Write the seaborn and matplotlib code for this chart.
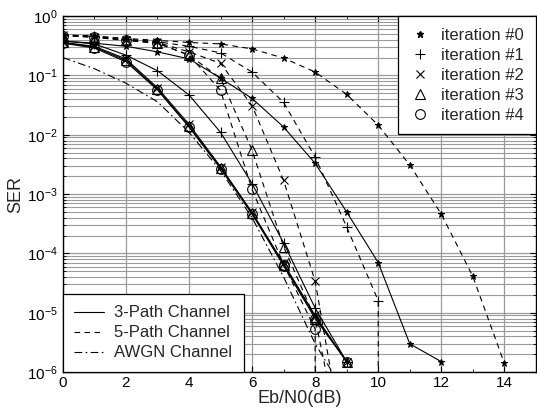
import numpy as np
import pandas as pd
import matplotlib
matplotlib.use("Agg")
import matplotlib.pyplot as plt
from matplotlib.lines import Line2D
from matplotlib.ticker import LogLocator, MultipleLocator, NullFormatter
import seaborn as sns

# ---------------- data ----------------
ebn0 = list(range(0, 15))

# 3-Path channel (solid)
p3_it0 = [0.38, 0.35, 0.31, 0.25, 0.19, 0.09, 0.041, 0.0135, 0.0033, 5e-4, 7e-5, 3e-6, 1.5e-6]
p3_it1 = [0.38, 0.34, 0.22, 0.12, 0.047, 0.011, 1.5e-3, 1.5e-4, 1.2e-5, 1.5e-6]
p3_it2 = [0.36, 0.31, 0.19, 0.062, 0.015, 2.9e-3, 4.9e-4, 6.8e-5, 9e-6, 1.5e-6]
p3_it3 = [0.36, 0.30, 0.18, 0.059, 0.014, 2.8e-3, 4.8e-4, 6.5e-5, 8.5e-6, 1.5e-6]
p3_it4 = [0.35, 0.29, 0.17, 0.057, 0.0135, 2.7e-3, 4.6e-4, 6.2e-5, 8e-6, 1.5e-6]

# 5-Path channel (dashed); last pair of each = drop below the axis
p5_it0_x = list(range(0, 15))
p5_it0 = [0.48, 0.46, 0.42, 0.39, 0.36, 0.34, 0.28, 0.196, 0.114, 0.048, 0.0145, 0.0031, 4.6e-4, 4.1e-5, 1.4e-6]
p5_it1_x = [0, 1, 2, 3, 4, 5, 6, 7, 8, 9, 10, 10]
p5_it1 = [0.48, 0.46, 0.41, 0.37, 0.31, 0.24, 0.114, 0.035, 0.0042, 2.8e-4, 1.6e-5, 1e-9]
p5_it2_x = [0, 1, 2, 3, 4, 5, 6, 7, 8, 9]
p5_it2 = [0.48, 0.45, 0.40, 0.36, 0.25, 0.16, 0.031, 1.7e-3, 3.4e-5, 3e-8]
p5_it3_x = [0, 1, 2, 3, 4, 5, 6, 7, 8, 9]
p5_it3 = [0.47, 0.44, 0.39, 0.35, 0.22, 0.09, 5.5e-3, 1.3e-4, 8e-6, 2e-8]
p5_it4_x = [0, 1, 2, 3, 4, 5, 6, 7, 8, 8]
p5_it4 = [0.47, 0.44, 0.39, 0.35, 0.22, 0.056, 1.2e-3, 6.5e-5, 5.3e-6, 1e-9]

# AWGN channel (dash-dot)
awgn_x = list(range(0, 10))
awgn = [0.2, 0.13, 0.074, 0.036, 0.011, 2.5e-3, 4e-4, 4e-5, 3e-6, 4e-7]

iter_labels = ["iteration #0", "iteration #1", "iteration #2", "iteration #3", "iteration #4"]
channel_labels = ["3-Path Channel", "5-Path Channel", "AWGN Channel"]
x_ticks = [0, 2, 4, 6, 8, 10, 12, 14]
y_ticks = [1e-6, 1e-5, 1e-4, 1e-3, 1e-2, 1e-1, 1e0]

# ---------------- style ----------------
sns.set_style("ticks")
plt.rcParams["font.family"] = ["Liberation Sans", "DejaVu Sans"]
plt.rcParams["mathtext.fontset"] = "custom"
plt.rcParams["mathtext.rm"] = "Liberation Sans"
plt.rcParams["mathtext.it"] = "Liberation Sans"
plt.rcParams["mathtext.bf"] = "Liberation Sans"

fig = plt.figure(figsize=(5.37, 4.13), dpi=100)
ax = fig.add_axes([0.117, 0.099, 0.881, 0.862])

markers = [
    dict(marker="*", ms=4.5, mfc="black"),
    dict(marker="+", ms=7, mew=0.8),
    dict(marker="x", ms=5.5, mew=0.8),
    dict(marker="^", ms=7, mfc="none", mew=0.8),
    dict(marker="o", ms=7, mfc="none", mew=0.8),
]

dash5 = (0, (5, 4))
dashdot = (0, (7, 3, 1.5, 3))

p3 = [p3_it0, p3_it1, p3_it2, p3_it3, p3_it4]
p5 = [(p5_it0_x, p5_it0), (p5_it1_x, p5_it1), (p5_it2_x, p5_it2),
      (p5_it3_x, p5_it3), (p5_it4_x, p5_it4)]

for i, ys in enumerate(p3):
    sns.lineplot(x=ebn0[:len(ys)], y=ys, ax=ax, color="black", lw=0.8,
                 linestyle="-", mec="black", estimator=None, sort=False,
                 legend=False, **markers[i])
for i, (xs, ys) in enumerate(p5):
    sns.lineplot(x=xs, y=ys, ax=ax, color="black", lw=0.8,
                 linestyle=dash5, mec="black", estimator=None, sort=False,
                 legend=False, **markers[i])
sns.lineplot(x=awgn_x, y=awgn, ax=ax, color="black", lw=0.8,
             linestyle=dashdot, estimator=None, sort=False, legend=False)

ax.set_yscale("log")
ax.set_xlim(0, 15)
ax.set_ylim(1e-6, 1)
ax.set_xticks(x_ticks)
ax.set_yticks(y_ticks)
ax.xaxis.set_minor_locator(MultipleLocator(1))
ax.yaxis.set_minor_locator(LogLocator(base=10, subs=np.arange(2, 10), numticks=20))
ax.yaxis.set_minor_formatter(NullFormatter())

ax.grid(True, which="major", axis="both", color="#9a9a9a", lw=0.9)
ax.grid(True, which="minor", axis="y", color="#9a9a9a", lw=0.8)
ax.set_axisbelow(True)

ax.tick_params(which="both", direction="in", top=True, right=True, labelsize=11, colors="black")
ax.tick_params(axis="x", which="major", pad=3)
ax.tick_params(which="major", length=4, width=0.8)
ax.tick_params(which="minor", length=2.5, width=0.6)
for s in ax.spines.values():
    s.set_color("black")
    s.set_linewidth(1.0)

ax.set_xlabel("Eb/N0(dB)", fontsize=13, labelpad=0)
ax.set_ylabel("SER", fontsize=13, labelpad=2)

# legend of iterations (markers only)
iter_handles = [Line2D([], [], linestyle="none", color="black", mec="black", **markers[i])
                for i in range(5)]
leg1 = ax.legend(iter_handles, iter_labels, loc="upper right", fontsize=12,
                 frameon=True, fancybox=False, edgecolor="black", framealpha=1,
                 borderaxespad=0, handlelength=1.2, handletextpad=0.7,
                 labelspacing=0.3, borderpad=0.7)
leg1.get_frame().set_linewidth(0.9)
ax.add_artist(leg1)

ch_handles = [Line2D([], [], color="black", lw=0.8, linestyle="-"),
              Line2D([], [], color="black", lw=0.8, linestyle=dash5),
              Line2D([], [], color="black", lw=0.8, linestyle=dashdot)]
leg2 = ax.legend(ch_handles, channel_labels, loc="lower left", fontsize=12,
                 frameon=True, fancybox=False, edgecolor="black", framealpha=1,
                 borderaxespad=0, handlelength=1.8, handletextpad=0.6,
                 labelspacing=0.3, borderpad=0.7)
leg2.get_frame().set_linewidth(0.9)

fig.savefig("out.png", dpi=100)
